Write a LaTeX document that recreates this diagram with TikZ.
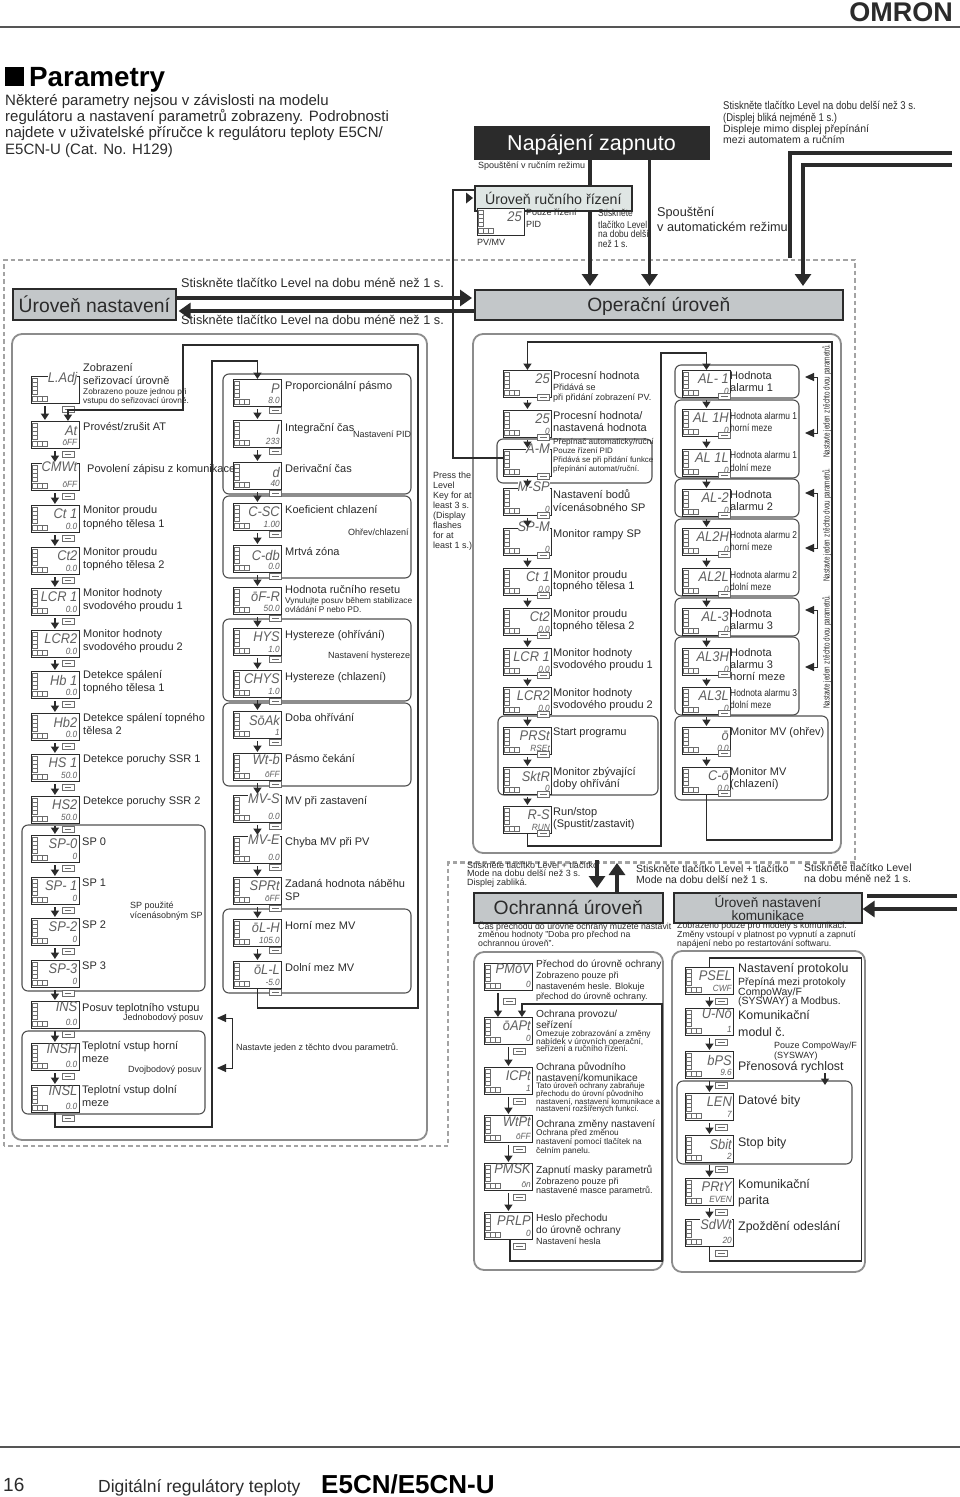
\documentclass[tikz,border=0pt]{standalone}
\usepackage{fontspec}
\setmainfont{Liberation Sans}
\newfontfamily\narrowfont[FakeStretch=0.84]{Liberation Sans}
\newfontfamily\tightfont[FakeStretch=0.7]{Liberation Sans}
\newfontfamily\segfont[FakeStretch=0.92]{Liberation Sans}
\usetikzlibrary{arrows.meta}
\definecolor{ink}{HTML}{2B2B2B}
\definecolor{levelgray}{HTML}{C3C7C9}
\definecolor{manualfill}{HTML}{DFE6E4}
\definecolor{framegray}{HTML}{A3A3A3}
\definecolor{panelgray}{HTML}{8C8C8C}
\definecolor{groupgray}{HTML}{505050}
\tikzset{
	tbase/.style={anchor=mid west,inner sep=0pt,text=ink},
	tlabel/.style={tbase,yshift=-1.8pt,font=\fontsize{11}{13}\selectfont},
	tsmall/.style={tbase,yshift=-1.1pt,font=\fontsize{9}{10}\selectfont},
	tunder/.style={tbase,yshift=-1pt,font=\fontsize{8.75}{10}\selectfont},
	ttiny/.style={tbase,yshift=-0.9pt,font=\fontsize{8.3}{9}\selectfont},
	tmini/.style={tbase,yshift=-0.7pt,font=\fontsize{7.9}{9}\selectfont},
	tnarrow/.style={tbase,yshift=-1.4pt,font=\narrowfont\fontsize{10}{11}\selectfont},
	tnarrowb/.style={tbase,yshift=-1.8pt,font=\narrowfont\fontsize{11.3}{12}\selectfont},
	thint/.style={tbase,yshift=-1.6pt,font=\fontsize{10.5}{12}\selectfont},
	tprot/.style={tbase,yshift=-1.5pt,font=\fontsize{10.2}{12}\selectfont},
	tcomm/.style={tbase,yshift=-2.3pt,font=\fontsize{12.4}{14}\selectfont},
	tpress/.style={tbase,yshift=-2.4pt,font=\fontsize{12.7}{14}\selectfont},
	tintro/.style={tbase,yshift=-3.2pt,font=\fontsize{15}{16}\selectfont},
	levelbox/.style={draw=ink,line width=1.6pt,fill=levelgray,inner sep=0pt,text=ink,text depth=0pt,anchor=north west},
	lcdface/.style={draw=ink,line width=0.9pt,fill=white,minimum width=48pt,minimum height=27pt,inner sep=0pt,anchor=north west},
	lcdmark/.style={draw=ink!70,line width=0.5pt},
	lcdtop/.style={anchor=east,inner sep=0pt,fill=white,text=ink!75,font=\segfont\itshape\fontsize{14}{14}\selectfont},
	lcdval/.style={anchor=east,inner sep=0pt,text=ink!75,font=\segfont\itshape\fontsize{9}{9}\selectfont},
	keybox/.style={draw=ink!70,line width=0.6pt,fill=white,minimum width=12pt,minimum height=6pt,inner sep=0pt,anchor=north west},
	keymark/.style={draw=ink!70,line width=0.7pt},
	stepflow/.style={draw=ink,line width=1.8pt,shorten <=2.5pt,shorten >=1pt,-{Triangle[width=8pt,length=6.5pt]}},
	flowloop/.style={draw=ink,line width=1.8pt,-{Triangle[width=8pt,length=6.5pt]}},
	bigflow/.style={draw=ink,line width=3.2pt,-{Triangle[width=16pt,length=12pt]}},
	bigline/.style={draw=ink,line width=3.2pt},
	sideflow/.style={draw=ink,line width=1pt,{Triangle[width=8pt,length=9pt]}-{Triangle[width=8pt,length=9pt]}},
	panelbox/.style={draw=panelgray,line width=1.8pt,rounded corners=10pt},
	groupbox/.style={draw=groupgray,line width=1.1pt,rounded corners=6pt},
}
\newcommand{\lcdunit}[6]{
	\node[lcdface] (#1) at (#2,#3) {};
	\draw[lcdmark] ([shift={(1.5,2)}]#1.north west) rectangle ++(5,4) ++(-5,0) rectangle ++(5,4) ++(-5,0) rectangle ++(5,4) ++(-5,0) rectangle ++(5,4);
	\draw[lcdmark] ([shift={(1.5,20)}]#1.north west) rectangle ++(5,5) ++(0,-5) rectangle ++(5,5) ++(0,-5) rectangle ++(5,5);
	\node[lcdtop] (#1t) at ([shift={(47,#6)}]#1.north west) {#4};
	\node[lcdval] (#1v) at ([shift={(47,21.5)}]#1.north west) {#5};
	\node[keybox] (#1k) at ([shift={(\keydx,\keydy)}]#1.north west) {};
	\draw[keymark] ([xshift=3]#1k.west) -- ([xshift=-3]#1k.east);
}
\begin{document}
\begin{tikzpicture}[x=1pt,y=-1pt]
	\useasboundingbox (0,0) rectangle (960,1497);
	\fill[white] (0,0) rectangle (960,1497);
	\draw[ink!80,line width=2pt] (0,26.5) -- (960,26.5);
	\draw[ink!80,line width=2pt] (0,1447) -- (960,1447);
	\node[anchor=mid east,inner sep=0pt,text=ink,font=\fontsize{27}{27}\bfseries\selectfont] (logo) at (953,18.5) {OMRON};
	\node[fill=black,minimum size=19pt,inner sep=0pt,anchor=north west] (mark) at (5,67) {};
	\node[anchor=mid west,inner sep=0pt,text=black,font=\fontsize{27.8}{28}\bfseries\selectfont] (heading) at (29,84) {Parametry};
	\foreach \yy/\lab [count=\i] in {100/Některé parametry nejsou v závislosti na modelu,116/regulátoru a nastavení parametrů zobrazeny. Podrobnosti,132/{najdete v uživatelské příručce k regulátoru teploty E5CN/},149/E5CN-U (Cat. No. H129)}
		\node[tintro] (intro\i) at (5,\yy) {\lab};
	\node[anchor=mid west,inner sep=0pt,text=ink,font=\fontsize{19}{20}\selectfont] (pagenum) at (3,1489) {16};
	\node[anchor=mid west,inner sep=0pt,text=ink,font=\fontsize{17.5}{20}\selectfont] (pagetitle) at (98,1490) {Digitální regulátory teploty};
	\node[anchor=mid west,inner sep=0pt,text=black,font=\fontsize{26}{28}\bfseries\selectfont] (pagemodel) at (321,1491) {E5CN/E5CN-U};

	\draw[framegray,line width=2.6pt,dash pattern=on 4.5pt off 3pt] (4,1146) -- (4,260) -- (855,260) -- (855,862.5) -- (448,862.5) -- (448,1146) -- cycle;
	\draw[panelbox] (12,334) rectangle (427,1140);
	\draw[panelbox] (473,334) rectangle (841,853);
	\draw[panelbox] (474,952) rectangle (663,1270);
	\draw[panelbox] (672,951) rectangle (865,1272);
	\foreach \xa/\ya/\xb/\yb in {22/825/205/991,22/1031/205/1114,223/374/411/494,223/496/411/578,223/619/411/701,223/703/411/786,223/909/411/993,497/439/652/483,498/716/658/795,675/365/799/398,675/400/799/478,675/479/799/517,675/519/799/596,675/598/799/636,675/637/799/715,675/716/828/800,677/1081/852/1164}
		\draw[groupbox] (\xa,\ya) rectangle (\xb,\yb);

	\node[levelbox,line width=0pt,fill=ink,minimum width=235pt,minimum height=33pt,text=white,font=\fontsize{21.5}{22}\selectfont] (poweron) at (474,126) {Napájení zapnuto};
	\node[levelbox,fill=manualfill,minimum width=157pt,minimum height=25pt,font=\fontsize{14.2}{15}\selectfont] (manual) at (474,185) {Úroveň ručního řízení};
	\node[levelbox,minimum width=163pt,minimum height=31pt,font=\fontsize{19.3}{21}\selectfont] (setup) at (12,288) {Úroveň nastavení};
	\node[levelbox,minimum width=368pt,minimum height=30pt,font=\fontsize{19.2}{20}\selectfont] (oper) at (474,289) {Operační úroveň};
	\node[levelbox,minimum width=189pt,minimum height=30pt,font=\fontsize{19.3}{20}\selectfont] (protect) at (473,892) {Ochranná úroveň};
	\node[levelbox,minimum width=188pt,minimum height=30pt,font=\fontsize{13.6}{13}\selectfont,align=center] (commset) at (673,892) {Úroveň nastavení\\komunikace};

	\def\keydx{31}\def\keydy{30}
	\foreach \nm/\yy/\upt/\dnt/\lift in {ladj/376/L.Adj//3,at/421/At/ōFF/10,cmwt/463/CMWt/ōFF/4,ct1/505/Ct 1/0.0/9,ct2/547/Ct2/0.0/9,lcr1/588/LCR 1/0.0/9,lcr2/630/LCR2/0.0/9,hb1/671/Hb 1/0.0/9,hb2/713/Hb2/0.0/9,hs1/754/HS 1/50.0/9,hs2/796/HS2/50.0/9,sp0/835/SP-0/0/9,sp1/877/SP- 1/0/9,sp2/918/SP-2/0/9,sp3/960/SP-3/0/9,ins/1001/INS/0.0/6,insh/1043/INSH/0.0/6,insl/1085/INSL/0.0/6}
	{
		\lcdunit{\nm}{30.5}{\yy}{\upt}{\dnt}{\lift}
	}
	\def\keydx{36}\def\keydy{28}
	\foreach \nm/\yy/\upt/\dnt/\lift in {pb/379/P/8.0/10,ti/420/I/233/10,td/462/d/40/10,csc/503/C-SC/1.00/9,cdb/545/C-db/0.0/10,ofr/587/ōF-R/50.0/10,hys/628/HYS/1.0/9,chys/670/CHYS/1.0/9,soak/711/SōAk/1/9,wtb/753/Wt-b/ōFF/6,mvs/795/MV-S/0.0/4,mve/836/MV-E/0.0/4,sprt/877/SPRt/ōFF/9,olh/919/ōL-H/105.0/9,oll/961/ōL-L/-5.0/9}
	{
		\lcdunit{\nm}{233}{\yy}{\upt}{\dnt}{\lift}
	}
	\def\keydx{34}\def\keydy{24}
	\foreach \nm/\yy/\upt/\dnt/\lift in {pv/370/25//9,sv/410/25/0/9,am/449/A-M//0,msp/488/M-SP/0/-1,spm/528/SP-M/0/-1,oct1/568/Ct 1/0.0/9,oct2/608/Ct2/0.0/9,olcr1/648/LCR 1/0.0/9,olcr2/687/LCR2/0.0/9,prst/727/PRSt/RSEt/9,sktr/767/SktR/0/9,runstop/806/R-S/RUN/9}
	{
		\lcdunit{\nm}{503}{\yy}{\upt}{\dnt}{\lift}
	}
	\def\keydx{36}\def\keydy{23}
	\foreach \nm/\yy/\upt/\dnt/\lift in {ala/370/AL- 1/0/9,alah/409/AL 1H/0/9,alal/449/AL 1L/0/9,alb/489/AL-2/0/9,albh/528/AL2H/0/9,albl/568/AL2L/0/9,alc/608/AL-3/0/9,alch/648/AL3H/0/9,alcl/687/AL3L/0/9,moh/727/ō/0.0/9,coo/767/C-ō/0.0/9}
	{
		\lcdunit{\nm}{682}{\yy}{\upt}{\dnt}{\lift}
	}
	\def\keydx{19}\def\keydy{35}
	\lcdunit{pmov}{484}{963}{PMōV}{0}{6}
	\def\keydx{29}\def\keydy{31}
	\foreach \nm/\yy/\upt/\dnt/\lift in {oapt/1017/ōAPt/0/9,icpt/1067/ICPt/1/9,wtpt/1115/WtPt/ōFF/7,pmsk/1163/PMSK/ōn/6,prlp/1212/PRLP/0/9}
	{
		\lcdunit{\nm}{484}{\yy}{\upt}{\dnt}{\lift}
	}
	\def\keydx{30}\def\keydy{31}
	\foreach \nm/\yy/\upt/\dnt/\lift in {psel/967/PSEL/CWF/9,uno/1008/U-Nō/1/6,bps/1051/bPS/9.6/9,len/1093/LEN/7/9,sbit/1135/Sbit/2/9,prty/1178/PRtY/EVEN/9,sdwt/1219/SdWt/20/5}
	{
		\lcdunit{\nm}{685}{\yy}{\upt}{\dnt}{\lift}
	}
	\node[lcdface,minimum width=47pt] (pvmv) at (477,208) {};
	\draw[lcdmark] ([shift={(1.5,2)}]pvmv.north west) rectangle ++(5,4) ++(-5,0) rectangle ++(5,4) ++(-5,0) rectangle ++(5,4) ++(-5,0) rectangle ++(5,4);
	\draw[lcdmark] ([shift={(1.5,20)}]pvmv.north west) rectangle ++(5,5) ++(0,-5) rectangle ++(5,5) ++(0,-5) rectangle ++(5,5);
	\node[lcdtop] (pvmvt) at ([shift={(45,9)}]pvmv.north west) {25};

	\foreach \a/\b in {at/cmwt,cmwt/ct1,ct1/ct2,ct2/lcr1,lcr1/lcr2,lcr2/hb1,hb1/hb2,hb2/hs1,hs1/hs2,hs2/sp0,sp0/sp1,sp1/sp2,sp2/sp3,sp3/ins,ins/insh,insh/insl,pb/ti,ti/td,td/csc,csc/cdb,cdb/ofr,ofr/hys,hys/chys,chys/soak,soak/wtb,wtb/mvs,mvs/mve,mve/sprt,sprt/olh,olh/oll,pv/sv,sv/am,am/msp,msp/spm,spm/oct1,oct1/oct2,oct2/olcr1,olcr1/olcr2,olcr2/prst,prst/sktr,sktr/runstop,ala/alah,alah/alal,alal/alb,alb/albh,albh/albl,albl/alc,alc/alch,alch/alcl,alcl/moh,moh/coo,oapt/icpt,icpt/wtpt,wtpt/pmsk,pmsk/prlp,psel/uno,uno/bps,bps/len,len/sbit,sbit/prty,prty/sdwt}
		\draw[stepflow] (\a.south) -- (\b.north);
	\draw[stepflow] ([xshift=-10]ladj.south) -- ([xshift=-10]at.north);
	\draw[flowloop,line width=2.4pt,shorten <=2pt] ([xshift=-10.5]pmov.south) -- ([xshift=-10.5]oapt.north);
	\draw[flowloop] (oll.south) |- (418,1008) -- (418,345) -- (183,345) -- (183,410) -| ([xshift=13]at.north);
	\draw[flowloop] (insl.south) |- (212,1127) -- (212,361) -| (pb.north);
	\draw[flowloop] (runstop.south) |- (661,846) -- (661,353) -| (ala.north);
	\draw[flowloop] (coo.south) |- (832,840) -- (832,342) -| (pv.north);
	\draw[flowloop,line width=1.2pt] ([xshift=1.5]prlp.south) |- (662,1261) -- (662,1004) -| ([xshift=13.5]oapt.north);
	\draw[draw=ink,line width=1.2pt] (sdwt.south) |- (861.5,1261) -- (861.5,958) -| (psel.north);

	\coordinate (manrun) at (590,286);
	\coordinate (autorun) at (649.5,286);
	\coordinate (lvlain) at (952,153);
	\coordinate (lvlaout) at (790,258);
	\coordinate (lvlbin) at (952,165);
	\coordinate (lvlbout) at (803,286);
	\coordinate (commain) at (957,896);
	\coordinate (commaout) at (867,896);
	\coordinate (commbin) at (957,909);
	\coordinate (manin) at (474,190);
	\coordinate (amin) at (503,458);
	\draw[bigline] (poweron.south -| manrun) -- (manual.north -| manrun);
	\draw[bigflow] (manual.south -| manrun) -- (manrun);
	\draw[bigflow] (poweron.south -| autorun) -- (autorun);
	\draw[bigflow] (lvlbin) -| (lvlbout);
	\draw[bigline] (lvlain) -| (lvlaout);
	\draw[bigflow,line width=3.8pt,shorten >=2pt] (setup.east |- 0,298) -- (oper.west |- 0,298);
	\draw[bigflow,line width=3.8pt,shorten >=2pt] (oper.west |- 0,311) -- (setup.east |- 0,311);
	\draw[bigflow] (597,860) -- (597,888);
	\draw[bigflow] (protect.north -| 617,0) -- (617,863);
	\draw[bigline] (commain) -- (commaout);
	\draw[bigflow] (commbin) -- (commset.east |- commbin);
	\draw[draw=ink,line width=1.2pt] (amin) -| (453,190) -- (manin);
	\fill[ink] (466,192.5) -- (473,198) -- (466,203.5) -- cycle;
	\draw[flowloop,line width=1.2pt] (825,1073) -- (825,1085);
	\foreach \ya/\yb [count=\i] in {377/433,493/548,610/667}{
		\coordinate (pick\i a) at (805,\ya);
		\coordinate (pick\i b) at (805,\yb);
		\draw[sideflow] (pick\i a) -- (817,\ya) -- (817,\yb) -- (pick\i b);
	}
	\coordinate (pickoa) at (217,1018);
	\coordinate (pickob) at (217,1068);
	\draw[sideflow] (pickoa) -- (232,1018) -- (232,1068) -- (pickob);

	\foreach \xx/\yy/\sty/\lab [count=\i] in {83/367/tlabel/Zobrazení,83/380/tlabel/seřizovací úrovně,83/391/ttiny/Zobrazeno pouze jednou při,83/400/ttiny/vstupu do seřizovací úrovně.,83/426/tlabel/{Provést/zrušit AT},87/468/tlabel/Povolení zápisu z komunikace,83/509/tlabel/Monitor proudu,83/523/tlabel/topného tělesa 1,83/551/tlabel/Monitor proudu,83/564/tlabel/topného tělesa 2,83/592/tlabel/Monitor hodnoty,83/605/tlabel/svodového proudu 1,83/633/tlabel/Monitor hodnoty,83/646/tlabel/svodového proudu 2,83/674/tlabel/Detekce spálení,83/687/tlabel/topného tělesa 1,83/717/tlabel/Detekce spálení topného,83/730/tlabel/tělesa 2,83/758/tlabel/Detekce poruchy SSR 1,83/800/tlabel/Detekce poruchy SSR 2,82/841/tlabel/SP 0,82/882/tlabel/SP 1,82/924/tlabel/SP 2,82/965/tlabel/SP 3,130/905/tsmall/SP použité,130/915/tsmall/vícenásobným SP,82/1007/tlabel/Posuv teplotního vstupu,123/1017/tsmall/Jednobodový posuv,82/1045/tlabel/Teplotní vstup horní,82/1058/tlabel/meze,128/1069/tsmall/Dvojbodový posuv,82/1089/tlabel/Teplotní vstup dolní,82/1102/tlabel/meze}
		\node[\sty] (ta\i) at (\xx,\yy) {\lab};
	\foreach \xx/\yy/\sty/\lab [count=\i] in {285/385/tlabel/Proporcionální pásmo,285/427/tlabel/Integrační čas,353/434/tsmall/Nastavení PID,285/468/tlabel/Derivační čas,285/509/tlabel/Koeficient chlazení,348/532/tsmall/{Ohřev/chlazení},285/551/tlabel/Mrtvá zóna,285/589/tlabel/Hodnota ručního resetu,285/600/ttiny/Vynulujte posuv během stabilizace,285/609/ttiny/ovládání P nebo PD.,285/634/tlabel/Hystereze (ohřívání),328/655/tsmall/Nastavení hystereze,285/676/tlabel/Hystereze (chlazení),285/717/tlabel/Doba ohřívání,285/758/tlabel/Pásmo čekání,285/800/tlabel/MV při zastavení,285/841/tlabel/Chyba MV při PV,285/883/tlabel/Zadaná hodnota náběhu,285/896/tlabel/SP,285/925/tlabel/Horní mez MV,285/967/tlabel/Dolní mez MV,236/1047/tsmall/Nastavte jeden z těchto dvou parametrů.}
		\node[\sty] (tb\i) at (\xx,\yy) {\lab};
	\foreach \yy/\sty/\lab [count=\i] in {375/tlabel/Procesní hodnota,387/tsmall/Přidává se,397/tsmall/při přidání zobrazení PV.,415/tlabel/{Procesní hodnota/},427/tlabel/nastavená hodnota,441/ttiny/{Přepínač automaticky/ruční},450/tmini/Pouze řízení PID,459/tmini/Přidává se při přidání funkce,468/tmini/{přepínání automat/ruční.},494/tlabel/Nastavení bodů,507/tlabel/vícenásobného SP,533/tlabel/Monitor rampy SP,574/tlabel/Monitor proudu,585/tlabel/topného tělesa 1,613/tlabel/Monitor proudu,625/tlabel/topného tělesa 2,652/tlabel/Monitor hodnoty,664/tlabel/svodového proudu 1,692/tlabel/Monitor hodnoty,704/tlabel/svodového proudu 2,731/tlabel/Start programu,771/tlabel/Monitor zbývající,783/tlabel/doby ohřívání,811/tlabel/{Run/stop},823/tlabel/{(Spustit/zastavit)}}
		\node[\sty] (tc\i) at (553,\yy) {\lab};
	\foreach \yy/\sty/\lab [count=\i] in {375/tlabel/Hodnota,387/tlabel/alarmu 1,415/tnarrow/Hodnota alarmu 1,427/tnarrow/horní meze,454/tnarrow/Hodnota alarmu 1,467/tnarrow/dolní meze,494/tlabel/Hodnota,506/tlabel/alarmu 2,534/tnarrow/Hodnota alarmu 2,546/tnarrow/horní meze,574/tnarrow/Hodnota alarmu 2,586/tnarrow/dolní meze,613/tlabel/Hodnota,625/tlabel/alarmu 3,652/tlabel/Hodnota,664/tlabel/alarmu 3,676/tlabel/horní meze,692/tnarrow/Hodnota alarmu 3,704/tnarrow/dolní meze,731/tlabel/Monitor MV (ohřev),771/tlabel/Monitor MV,783/tlabel/(chlazení)}
		\node[\sty] (td\i) at (730,\yy) {\lab};
	\foreach \yy/\sty/\lab [count=\i] in {963/tprot/Přechod do úrovně ochrany,975/tsmall/Zobrazeno pouze při,986/tsmall/nastaveném hesle. Blokuje,996/tsmall/přechod do úrovně ochrany.,1013/tprot/{Ochrana provozu/},1024/tprot/seřízení,1033/ttiny/Omezuje zobrazování a změny,1041/ttiny/{nabídek v úrovních operační,},1048/ttiny/seřízení a ručního řízení.,1066/tprot/Ochrana původního,1077/tprot/{nastavení/komunikace},1085/tmini/Tato úroveň ochrany zabraňuje,1093/tmini/přechodu do úrovní původního,1101/tmini/{nastavení, nastavení komunikace a},1108/tmini/nastavení rozšířených funkcí.,1123/tprot/Ochrana změny nastavení,1132/ttiny/Ochrana před změnou,1141/ttiny/nastavení pomocí tlačítek na,1150/ttiny/čelním panelu.,1169/tprot/Zapnutí masky parametrů,1181/tsmall/Zobrazeno pouze při,1190/tsmall/nastavené masce parametrů.,1217/tprot/Heslo přechodu,1229/tprot/do úrovně ochrany,1241/tsmall/Nastavení hesla}
		\node[\sty] (te\i) at (536,\yy) {\lab};
	\foreach \xx/\yy/\sty/\lab [count=\i] in {738/968/tcomm/Nastavení protokolu,738/981/thint/Přepíná mezi protokoly,738/991/thint/{CompoWay/F},738/1000/thint/(SYSWAY) a Modbus.,738/1015/tcomm/Komunikační,738/1032/tcomm/modul č.,774/1045/tsmall/{Pouze CompoWay/F},774/1055/tsmall/(SYSWAY),738/1066/tcomm/Přenosová rychlost,738/1100/tcomm/Datové bity,738/1142/tcomm/Stop bity,738/1184/tcomm/Komunikační,738/1200/tcomm/parita,738/1226/tcomm/Zpoždění odeslání}
		\node[\sty] (tf\i) at (\xx,\yy) {\lab};
	\foreach \xx/\yy/\sty/\lab [count=\i] in {478/165/tsmall/Spouštění v ručním režimu,526/212/tsmall/Pouze řízení,526/224/tsmall/PID,477/242/tsmall/{PV/MV},598/212/tnarrow/Stiskněte,598/224/tnarrow/tlačítko Level,598/233/tnarrow/na dobu delší,598/243/tnarrow/než 1 s.,657/211/tpress/Spouštění,657/226/tpress/v automatickém režimu,723/105/tnarrowb/Stiskněte tlačítko Level na dobu delší než 3 s.,723/117/tnarrowb/(Displej bliká nejméně 1 s.),723/128/thint/Displeje mimo displej přepínání,723/139/thint/mezi automatem a ručním,181/282/tpress/Stiskněte tlačítko Level na dobu méně než 1 s.,181/319/tpress/Stiskněte tlačítko Level na dobu méně než 1 s.,433/475/tsmall/Press the,433/485/tsmall/Level,433/495/tsmall/Key for at,433/505/tsmall/least 3 s.,433/515/tsmall/(Display,433/525/tsmall/flashes,433/535/tsmall/for at,433/545/tsmall/least 1 s.),467/865/tsmall/Stiskněte tlačítko Level + tlačítko,467/873/tsmall/Mode na dobu delší než 3 s.,467/882/tsmall/Displej zabliká.,636/868/thint/Stiskněte tlačítko Level + tlačítko,636/879/thint/Mode na dobu delší než 1 s.,804/867/thint/Stiskněte tlačítko Level,804/878/thint/na dobu méně než 1 s.,478/926/tunder/Čas přechodu do úrovně ochrany můžete nastavit,478/934/tunder/změnou hodnoty "Doba pro přechod na,478/943/tunder/ochrannou úroveň".,677/925/tunder/Zobrazeno pouze pro modely s komunikací.,677/934/tunder/Změny vstoupí v platnost po vypnutí a zapnutí,677/943/tunder/napájení nebo po restartování softwaru.}
		\node[\sty] (tg\i) at (\xx,\yy) {\lab};
	\foreach \yy [count=\i] in {401,525,652}
		\node[tbase,anchor=center,rotate=90,font=\tightfont\fontsize{9}{10}\selectfont] (pickt\i) at (827,\yy) {Nastavte jeden z těchto dvou parametrů.};
\end{tikzpicture}
\end{document}
